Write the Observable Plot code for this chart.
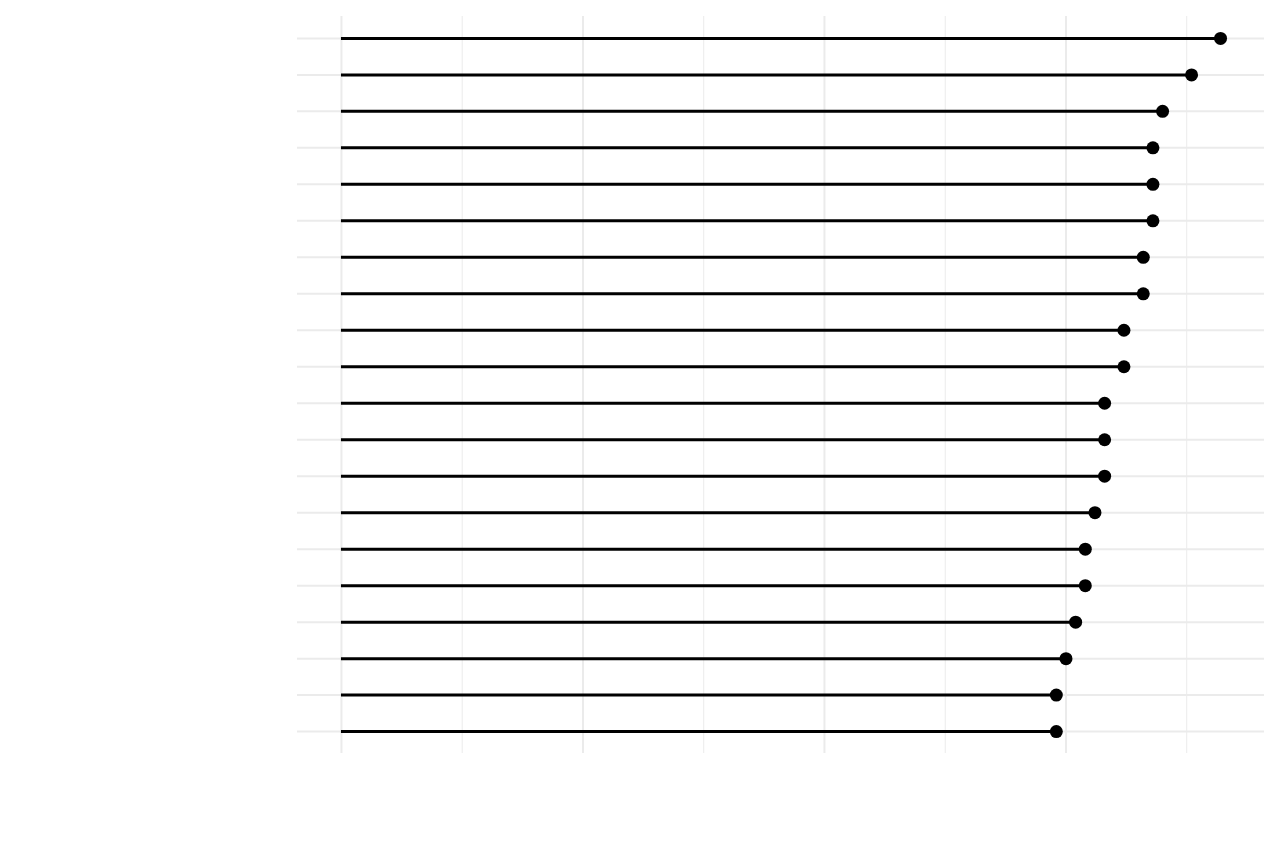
<!DOCTYPE html>
<html>
<head>
<meta charset="utf-8">
<script src="https://cdn.jsdelivr.net/npm/d3@7"></script>
<script src="https://cdn.jsdelivr.net/npm/@observablehq/plot@0.6"></script>
<style>
  html, body { margin: 0; padding: 0; background: #ffffff; }
  #chart svg { display: block; }
</style>
</head>
<body>
<div id="chart"></div>
<script>
// Categories (top to bottom) and their values
const categories = [
  "Item 1", "Item 2", "Item 3", "Item 4", "Item 5",
  "Item 6", "Item 7", "Item 8", "Item 9", "Item 10",
  "Item 11", "Item 12", "Item 13", "Item 14", "Item 15",
  "Item 16", "Item 17", "Item 18", "Item 19", "Item 20"
];
const values = [91, 88, 85, 84, 84, 84, 83, 83, 81, 81, 79, 79, 79, 78, 77, 77, 76, 75, 74, 74];
const majorTicks = [0, 25, 50, 75];
const minorTicks = [12.5, 37.5, 62.5, 87.5];

const data = categories.map((name, i) => ({name, value: values[i]}));

const xMax = d3.max(values);
const pad = (xMax - 0) * 0.05;

const chart = Plot.plot({
  width: 1281,
  height: 854,
  marginLeft: 297,
  marginRight: 17,
  marginTop: 16,
  marginBottom: 101,
  x: {domain: [0 - pad, xMax + pad], axis: null},
  y: {type: "point", domain: categories, padding: 0.6, round: false, axis: null},
  marks: [
    Plot.ruleX(minorTicks, {stroke: "#ebebeb", strokeWidth: 1}),
    Plot.ruleX(majorTicks, {stroke: "#ebebeb", strokeWidth: 2}),
    Plot.ruleY(categories, {stroke: "#ebebeb", strokeWidth: 2}),
    Plot.ruleY(data, {y: "name", x1: 0, x2: "value", stroke: "#000000", strokeWidth: 3}),
    Plot.dot(data, {x: "value", y: "name", r: 6.5, fill: "#000000", stroke: "none"})
  ]
});
document.getElementById("chart").appendChild(chart);
</script>
</body>
</html>
